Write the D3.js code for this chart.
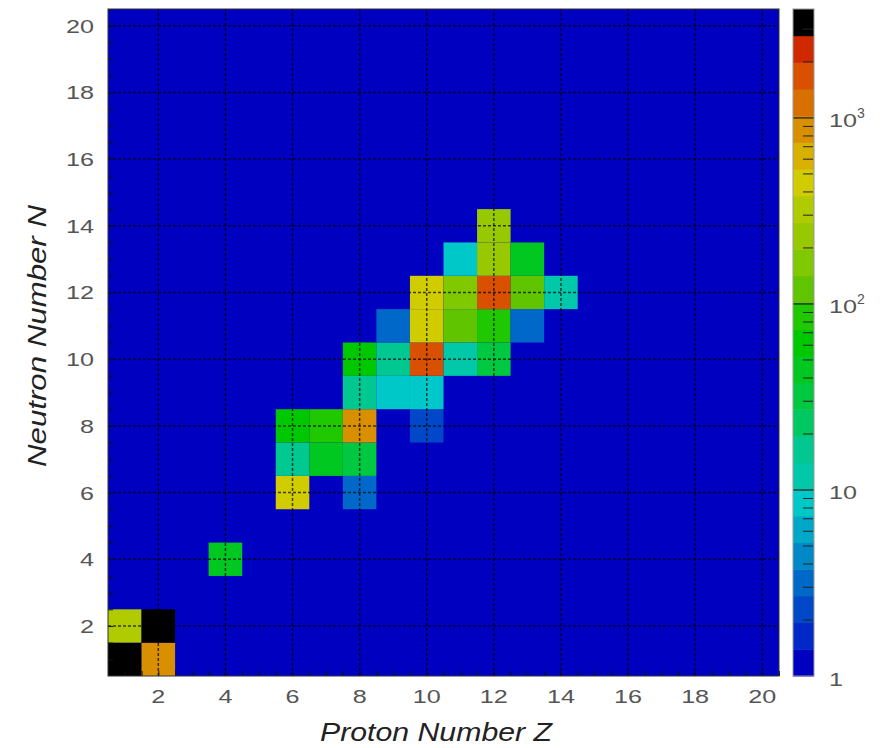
<!DOCTYPE html>
<html>
<head>
<meta charset="utf-8">
<script src="https://cdn.jsdelivr.net/npm/d3@7"></script>
<style>
  body { margin: 0; background: #fff; }
  svg { display: block; }
  text { font-family: "Liberation Sans", Arial, sans-serif; }
</style>
</head>
<body>
<script>
// filled (Z, N) cells and their counts
const protonZ  = [1, 2, 1, 2, 4, 6, 8, 6, 7, 8, 6, 7, 8, 10, 8, 9, 10, 8, 9, 10, 11, 12, 9, 10, 11, 12, 13, 10, 11, 12, 13, 14, 11, 12, 13, 12];
const neutronN = [1, 1, 2, 2, 4, 6, 6, 7, 7, 7, 8, 8, 8, 8, 9, 9, 9, 10, 10, 10, 10, 10, 11, 11, 11, 11, 11, 12, 12, 12, 12, 12, 13, 13, 13, 14];
const counts   = [3300, 900, 300, 3250, 45, 450, 3.2, 16.6, 45, 32, 60, 85, 950, 2.3, 16.6, 8.5, 8.5, 60, 16.6, 1690, 11.9, 32, 3.5, 430, 120, 100, 3.5, 470, 167, 1690, 130, 13, 8, 250, 45, 232];

const axisTicks = [2, 4, 6, 8, 10, 12, 14, 16, 18, 20];
const zTicks = [1, 10, 100, 1000];
const zTickLabels = ["1", "10", "10", "10"];
const zTickExp = ["", "", "2", "3"];
const zMax = 3850;

// palette bands, bottom to top
const palette = ["#0000c0", "#0028c8", "#0048c8", "#0068c8", "#0088c8", "#00a8c8", "#00c8c8", "#00c8a8",
  "#00c890", "#00c860", "#00c840", "#00c820", "#00c800", "#20c800", "#60c400", "#80c800", "#98c800",
  "#b0cc00", "#d0cc00", "#d8b000", "#d89000", "#d87000", "#d85000", "#d02800", "#000000"];

const width = 889, height = 748;
const margin = { top: 9, right: 110, bottom: 72, left: 108 };

const x = d3.scaleLinear().domain([0.5, 20.5]).range([margin.left, width - margin.right]);
const y = d3.scaleLinear().domain([0.5, 20.5]).range([height - margin.bottom, margin.top]);
const zScale = d3.scaleLog().domain([1, zMax]).range([height - margin.bottom, margin.top]);
const color = d3.scaleQuantize().domain([0, Math.log10(zMax)]).range(palette);

const cells = protonZ.map((z, i) => ({ z: z, n: neutronN[i], v: counts[i] }));

const svg = d3.select("body").append("svg").attr("width", width).attr("height", height);

// frame background = lowest colour
svg.append("rect")
  .attr("x", x(0.5)).attr("y", y(20.5))
  .attr("width", x(20.5) - x(0.5)).attr("height", y(0.5) - y(20.5))
  .attr("fill", palette[0]);

svg.append("g")
  .selectAll("rect")
  .data(cells)
  .join("rect")
  .attr("x", d => x(d.z - 0.5))
  .attr("y", d => y(d.n + 0.5))
  .attr("width", d => x(d.z + 0.5) - x(d.z - 0.5))
  .attr("height", d => y(d.n - 0.5) - y(d.n + 0.5))
  .attr("fill", d => color(Math.log10(d.v)));

// dashed grid
const grid = svg.append("g").attr("stroke", "#000").attr("stroke-opacity", 0.7)
  .attr("stroke-dasharray", "3,2").attr("stroke-width", 1.5);
grid.selectAll(".gx").data(axisTicks).join("line")
  .attr("x1", d => x(d)).attr("x2", d => x(d))
  .attr("y1", y(0.5)).attr("y2", y(20.5));
grid.selectAll(".gy").data(axisTicks).join("line")
  .attr("y1", d => y(d)).attr("y2", d => y(d))
  .attr("x1", x(0.5)).attr("x2", x(20.5));

// inside ticks every half unit
const minor = d3.range(1, 20.51, 0.5);
svg.append("g")
  .attr("transform", `translate(0,${y(0.5)})`)
  .call(d3.axisBottom(x).tickValues(minor).tickSizeInner(-5).tickSizeOuter(0).tickFormat(""))
  .call(g => g.select(".domain").remove())
  .selectAll("line").attr("stroke", "#111");
svg.append("g")
  .attr("transform", `translate(${x(0.5)},0)`)
  .call(d3.axisLeft(y).tickValues(minor).tickSizeInner(-5).tickSizeOuter(0).tickFormat(""))
  .call(g => g.select(".domain").remove())
  .selectAll("line").attr("stroke", "#111");

svg.append("rect")
  .attr("x", x(0.5)).attr("y", y(20.5))
  .attr("width", x(20.5) - x(0.5)).attr("height", y(0.5) - y(20.5))
  .attr("fill", "none").attr("stroke", "#333").attr("stroke-width", 1);

// tick labels
svg.append("g")
  .selectAll("text")
  .data(axisTicks)
  .join("text")
  .attr("x", d => x(d))
  .attr("y", 703)
  .attr("text-anchor", "middle")
  .attr("font-size", 19)
  .attr("fill", "#555")
  .attr("textLength", d => String(d).length * 14)
  .attr("lengthAdjust", "spacingAndGlyphs")
  .text(d => d);

svg.append("g")
  .selectAll("text")
  .data(axisTicks)
  .join("text")
  .attr("x", 94)
  .attr("y", d => y(d) + 7)
  .attr("text-anchor", "end")
  .attr("font-size", 19)
  .attr("fill", "#555")
  .attr("textLength", d => String(d).length * 14)
  .attr("lengthAdjust", "spacingAndGlyphs")
  .text(d => d);

// axis titles
svg.append("text")
  .attr("x", 436).attr("y", 741)
  .attr("text-anchor", "middle")
  .attr("font-size", 25).attr("font-style", "italic")
  .attr("fill", "#222")
  .attr("textLength", 232).attr("lengthAdjust", "spacingAndGlyphs")
  .text("Proton Number Z");

svg.append("text")
  .attr("transform", "translate(46,336) rotate(-90)")
  .attr("text-anchor", "middle")
  .attr("font-size", 25).attr("font-style", "italic")
  .attr("fill", "#222")
  .attr("textLength", 262).attr("lengthAdjust", "spacingAndGlyphs")
  .text("Neutron Number N");

// colour bar
const barX = 793, barW = 21;
const bandEdges = d3.range(palette.length + 1).map(i => Math.pow(10, i * Math.log10(zMax) / palette.length));
svg.append("g")
  .selectAll("rect")
  .data(palette)
  .join("rect")
  .attr("x", barX)
  .attr("y", (d, i) => zScale(bandEdges[i + 1]))
  .attr("width", barW)
  .attr("height", (d, i) => zScale(bandEdges[i]) - zScale(bandEdges[i + 1]) + 0.5)
  .attr("fill", d => d);

const zMinor = [];
zTicks.forEach(t => d3.range(2, 10).forEach(k => { if (t * k < zMax) zMinor.push(t * k); }));
svg.append("g")
  .attr("stroke", "#222")
  .selectAll("line")
  .data(zMinor)
  .join("line")
  .attr("x1", barX + barW - 11).attr("x2", barX + barW - 1)
  .attr("y1", d => zScale(d)).attr("y2", d => zScale(d));
svg.append("g")
  .attr("stroke", "#222").attr("stroke-width", 1.3)
  .selectAll("line")
  .data(zTicks.slice(1))
  .join("line")
  .attr("x1", barX).attr("x2", barX + barW)
  .attr("y1", d => zScale(d)).attr("y2", d => zScale(d));

svg.append("rect")
  .attr("x", barX).attr("y", zScale(zMax))
  .attr("width", barW).attr("height", zScale(1) - zScale(zMax))
  .attr("fill", "none").attr("stroke", "#999").attr("stroke-width", 1);

const zLab = svg.append("g")
  .selectAll("text")
  .data(zTicks)
  .join("text")
  .attr("x", 829)
  .attr("y", (d, i) => zScale(d) + (i === 0 ? 10 : 9))
  .attr("font-size", 19)
  .attr("fill", "#555");
zLab.append("tspan")
  .attr("textLength", (d, i) => zTickLabels[i].length * 14)
  .attr("lengthAdjust", "spacingAndGlyphs")
  .text((d, i) => zTickLabels[i]);
zLab.append("tspan")
  .attr("dy", -9)
  .attr("font-size", 14)
  .text((d, i) => zTickExp[i]);
</script>
</body>
</html>
